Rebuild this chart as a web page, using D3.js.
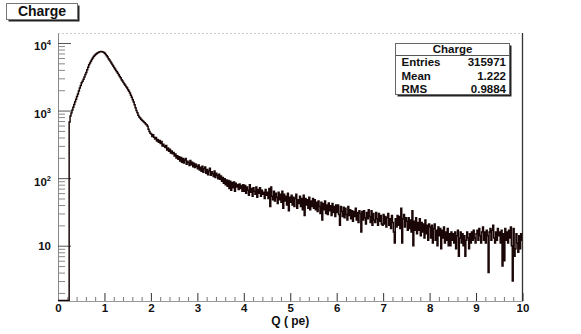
<!DOCTYPE html>
<html>
<head>
<meta charset="utf-8">
<script src="https://cdn.jsdelivr.net/npm/d3@7"></script>
<style>
  html,body{margin:0;padding:0;background:#fff;}
  svg text{font-family:"Liberation Sans",Arial,Helvetica,sans-serif;font-weight:bold;fill:#111;}
</style>
</head>
<body>
<div id="chart"></div>
<script>
// Charge spectrum, ROOT-style step histogram with log y axis
const histTitle = 'Charge';
const xTitle = 'Q ( pe)';
const qRange = [0, 10];
const nBins = 500;
// bin contents, 25 bins (0.5 pe) per row
const counts = [
  0,0,0,0,0,0,0,0,0,0,0,0,680,830,920,1020,1120,1235,1355,1475,1610,1760,1945,2150,2355,
  2570,2710,2920,3150,3420,3650,4020,4390,4760,5040,5360,5690,6010,6290,6520,6750,6940,7120,7260,7350,7440,7490,7440,7350,7210,
  7030,6750,6480,6200,5870,5600,5320,5040,4810,4580,4350,4120,3930,3750,3560,3380,3190,3060,2870,2740,2610,2470,2380,2260,2150,
  2040,1930,1820,1680,1570,1450,1340,1215,1105,1000,925,850,805,775,745,720,700,680,660,635,615,585,530,490,463,
  450,412,438,402,380,398,355,372,340,362,325,348,300,318,296,284,305,262,280,250,268,236,252,230,240,
  212,228,198,214,190,208,180,202,172,195,168,186,196,160,178,170,154,182,158,172,148,166,144,160,150,
  138,156,132,145,126,150,122,138,146,118,134,112,128,140,110,124,116,106,128,102,118,110,98,114,96,
  108,90,102,84,98,80,94,76,92,70,90,66,86,72,88,64,84,74,80,68,82,70,78,64,80,
  64,78,60,74,66,56,80,62,70,54,72,64,58,74,52,68,60,72,54,66,58,62,50,68,56,
  62,50,70,38,74,54,48,64,46,60,52,42,62,48,58,44,64,36,58,46,54,40,60,33,52,
  44,56,40,52,38,50,58,36,48,42,54,38,50,34,56,28,50,40,48,36,52,34,46,38,50,
  36,48,34,44,32,46,38,30,44,24,42,34,46,30,40,29,43,33,39,28,42,31,38,27,40,
  31,40,29,20,38,32,27,37,26,36,29,24,38,28,34,25,33,23,32,27,36,24,31,22,33,
  30,16,32,24,33,26,21,31,25,34,27,22,33,20,30,24,22,31,25,20,30,23,28,21,20,
  29,21,27,19,26,30,20,25,18,28,22,16,11,25,19,28,20,27,18,36,11,25,29,19,26,
  23,17,26,18,24,16,33,10,23,17,26,15,22,17,25,14,22,16,21,13,24,15,20,12,21,
  19,13,20,11,18,21,12,17,10,19,14,18,9,17,13,19,11,16,12,18,10,15,10,16,12,
  15,11,16,9,14,17,7,13,16,11,15,10,14,7,12,16,13,9,15,11,16,12,17,13,11,
  15,17,12,18,14,11,16,19,12,16,11,17,14,4,16,18,12,17,20,13,11,16,12,18,14,
  16,11,17,5,15,6,18,12,16,11,17,13,19,10,3,18,7,9,15,11,8,14,9,15,12
];
const xTickValues = [0,1,2,3,4,5,6,7,8,9,10];
const yTickValues = [10,100,1000,10000];
const yTickExps = [null,'2','3','4'];
const statsNames = ['Entries','Mean','RMS'];
const statsValues = ['315971','1.222','0.9884'];

(function(){
  const W = 581, H = 334;
  const frame = {left:58, right:522.5, top:33, bottom:301};
  const svg = d3.select('#chart').append('svg').attr('width',W).attr('height',H);

  const x = d3.scaleLinear().domain(qRange).range([frame.left, frame.right]);
  const y = d3.scaleLog().domain([1.52, 14060]).range([frame.bottom, frame.top]);

  // frame: faint dotted top, solid right edge
  svg.append('line').attr('x1',frame.left).attr('x2',frame.right).attr('y1',frame.top+0.5).attr('y2',frame.top+0.5)
    .attr('stroke','#ccc').attr('stroke-dasharray','2,2');
  svg.append('line').attr('x1',frame.right).attr('x2',frame.right).attr('y1',frame.top).attr('y2',frame.bottom)
    .attr('stroke','#333').attr('stroke-width',1.3);

  // x axis (ticks inside the frame)
  const xMinor = d3.range(1,50).map(i=>i*0.2).filter(v=>Math.abs(v-Math.round(v))>1e-6);
  svg.append('g').attr('transform',`translate(0,${frame.bottom})`)
    .call(d3.axisBottom(x).tickValues(xMinor).tickSize(-4).tickSizeOuter(0).tickFormat(''))
    .call(g=>g.select('.domain').attr('stroke','#999'))
    .call(g=>g.selectAll('.tick line').attr('stroke','#777'));
  const gx = svg.append('g').attr('transform',`translate(0,${frame.bottom})`)
    .call(d3.axisBottom(x).tickValues(xTickValues).tickSize(-8).tickSizeOuter(0).tickPadding(3).tickFormat(d3.format('d')));
  gx.select('.domain').remove();
  gx.selectAll('.tick line').attr('stroke','#333');
  gx.attr('font-size',11.5).attr('font-family',null);

  // y axis, log decades with minor ticks
  const yMinor = [];
  [1,10,100,1000].forEach(dec=>{ for(let k=2;k<=9;k++){ const v=k*dec; if(v>=1.52 && v<=14060) yMinor.push(v); } });
  svg.append('g').attr('transform',`translate(${frame.left},0)`)
    .call(d3.axisLeft(y).tickValues(yMinor).tickSize(-7).tickSizeOuter(0).tickFormat(''))
    .call(g=>g.select('.domain').attr('stroke','#888'))
    .call(g=>g.selectAll('.tick line').attr('stroke','#888'));
  svg.append('g').attr('transform',`translate(${frame.left},0)`)
    .call(d3.axisLeft(y).tickValues(yTickValues).tickSize(-13).tickSizeOuter(0).tickFormat(''))
    .call(g=>g.select('.domain').remove())
    .call(g=>g.selectAll('.tick line').attr('stroke','#555'));

  const yl = svg.append('g').attr('font-size',11.5);
  yTickValues.forEach((v,i)=>{
    const t = yl.append('text').attr('text-anchor','end').attr('x',51);
    if(yTickExps[i]){
      t.attr('y',y(v)+7.5);
      t.append('tspan').text('10');
      t.append('tspan').attr('font-size',7.5).attr('dy',-5).text(yTickExps[i]);
    } else {
      t.attr('y',y(v)+4.5).text('10');
    }
  });

  // histogram as a step line, empty bins sit on the frame bottom
  svg.append('clipPath').attr('id','frameClip').append('rect')
    .attr('x',frame.left).attr('y',frame.top).attr('width',frame.right-frame.left).attr('height',frame.bottom-frame.top);
  const bw = (qRange[1]-qRange[0])/nBins;
  const pts = counts.map((c,i)=>[qRange[0]+i*bw, c]);
  pts.push([qRange[1], counts[counts.length-1]]);
  const line = d3.line().curve(d3.curveStepAfter)
    .x(d=>x(d[0])).y(d=>d[1]>0 ? y(d[1]) : frame.bottom-0.5);
  svg.append('path').datum(pts).attr('clip-path','url(#frameClip)')
    .attr('d',line).attr('fill','none').attr('stroke','#1a0606').attr('stroke-width',1.5);

  // axis title
  svg.append('text').attr('x',(frame.left+frame.right)/2).attr('y',325).attr('text-anchor','middle')
    .attr('font-size',12).text(xTitle);

  // title pave with shadow
  svg.append('rect').attr('x',8.5).attr('y',5.5).attr('width',71).attr('height',16).attr('fill','#222');
  svg.append('rect').attr('x',6.5).attr('y',3.5).attr('width',71).attr('height',16).attr('fill','#fff').attr('stroke','#777');
  svg.append('text').attr('x',42).attr('y',16.3).attr('text-anchor','middle').attr('font-size',14).text(histTitle);

  // stats box
  const sb = {x:395.5, y:43.5, w:114, h:51};
  svg.append('rect').attr('x',sb.x+2).attr('y',sb.y+2).attr('width',sb.w).attr('height',sb.h).attr('fill','#222');
  svg.append('rect').attr('x',sb.x).attr('y',sb.y).attr('width',sb.w).attr('height',sb.h).attr('fill','#fff').attr('stroke','#666');
  svg.append('line').attr('x1',sb.x).attr('x2',sb.x+sb.w).attr('y1',55.5).attr('y2',55.5).attr('stroke','#555');
  svg.append('text').attr('x',sb.x+sb.w/2).attr('y',53).attr('text-anchor','middle').attr('font-size',11.5).text(histTitle);
  const rowY = [66, 79.5, 93];
  statsNames.forEach((n,i)=>{
    svg.append('text').attr('x',401.5).attr('y',rowY[i]).attr('font-size',11.5).text(n);
    svg.append('text').attr('x',506).attr('y',rowY[i]).attr('text-anchor','end').attr('font-size',11.5).text(statsValues[i]);
  });
})();
</script>
</body>
</html>
